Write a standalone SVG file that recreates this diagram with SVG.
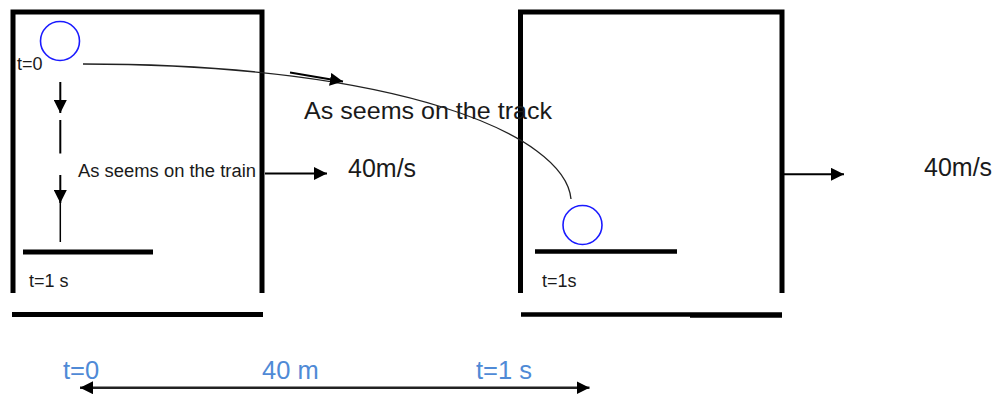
<svg xmlns="http://www.w3.org/2000/svg" width="995" height="396" viewBox="0 0 995 396">
<style>
.box{fill:none;stroke:#000;stroke-width:5;stroke-linejoin:miter;stroke-linecap:butt}
.bar{stroke:#000;stroke-linecap:butt}
.ball{fill:none;stroke:#1a1aff;stroke-width:1.6}
.arr{stroke:#000;stroke-width:2;fill:none}
.txt{font-family:"Liberation Sans",Arial,sans-serif;fill:#1a1a1a}
.blue{font-family:"Liberation Sans",Arial,sans-serif;fill:#4f8ad6}
</style>
<defs>
<marker id="ah" markerUnits="userSpaceOnUse" markerWidth="14" markerHeight="13" refX="13" refY="6.5" orient="auto">
<path d="M0,0 L13,6.5 L0,13 z" fill="#000"/>
</marker>
<marker id="ahs" markerUnits="userSpaceOnUse" markerWidth="14" markerHeight="13" refX="13" refY="6.5" orient="auto-start-reverse">
<path d="M0,0 L13,6.5 L0,13 z" fill="#000"/>
</marker>
</defs>

<g id="train-left">
<path class="box" d="M13,293 V12 H262 V293"/>
<line class="bar" x1="23" y1="252" x2="153" y2="252" stroke-width="5"/>
<line class="bar" x1="12" y1="314.5" x2="263" y2="314.5" stroke-width="5"/>
<circle class="ball" cx="60" cy="41" r="19.5"/>
<text class="txt" x="17" y="70" font-size="18">t=0</text>
<text class="txt" x="29" y="287" font-size="18">t=1 s</text>
<text class="txt" x="78" y="177" font-size="18" textLength="178" lengthAdjust="spacingAndGlyphs">As seems on the train</text>
</g>

<g id="train-right">
<path class="box" d="M520.5,293 V12 H782 V293"/>
<line class="bar" x1="535" y1="251.5" x2="677" y2="251.5" stroke-width="4.5"/>
<line class="bar" x1="521" y1="314.5" x2="690" y2="314.5" stroke-width="4.5"/>
<line class="bar" x1="690" y1="315" x2="782" y2="315" stroke-width="5.5"/>
<circle class="ball" cx="582.5" cy="225" r="19.5"/>
<text class="txt" x="542" y="287" font-size="18">t=1s</text>
</g>

<g id="labels">
<text class="txt" x="304" y="119" font-size="24.5" textLength="248" lengthAdjust="spacingAndGlyphs">As seems on the track</text>
<text class="txt" x="348" y="177" font-size="25">40m/s</text>
<text class="txt" x="924" y="176" font-size="25">40m/s</text>
<text class="blue" x="63" y="379" font-size="25.5">t=0</text>
<text class="blue" x="262" y="379" font-size="25.5">40 m</text>
<text class="blue" x="476" y="379" font-size="25.5">t=1 s</text>
</g>

<g id="connectors">
<path d="M83,64 C400,64 565,135 571,199" fill="none" stroke="#222" stroke-width="1.3"/>
<line class="arr" x1="290" y1="72.5" x2="343" y2="81.5" marker-end="url(#ah)"/>
<line class="arr" x1="60.3" y1="82" x2="60.3" y2="113" marker-end="url(#ah)"/>
<line class="arr" x1="60.3" y1="120" x2="60.3" y2="153.5"/>
<line class="arr" x1="60.3" y1="175" x2="60.3" y2="203" marker-end="url(#ah)"/>
<line x1="60.3" y1="200" x2="60.3" y2="242" stroke="#000" stroke-width="1.5"/>
<line class="arr" x1="265" y1="173.5" x2="327" y2="173.5" marker-end="url(#ah)"/>
<line class="arr" x1="784" y1="174.3" x2="844" y2="174.3" marker-end="url(#ah)"/>
<line x1="80" y1="387.7" x2="589.5" y2="387.7" stroke="#222" stroke-width="2.5" marker-start="url(#ahs)" marker-end="url(#ahs)"/>
</g>
</svg>
